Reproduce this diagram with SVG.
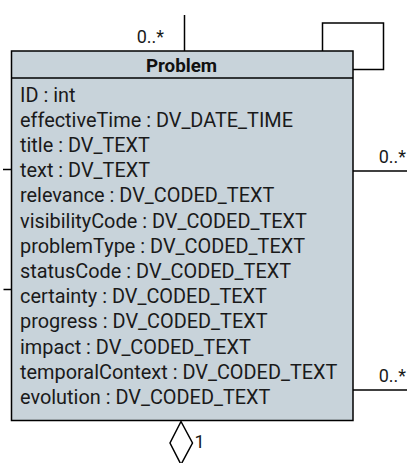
<svg xmlns="http://www.w3.org/2000/svg" width="407" height="463" viewBox="0 0 407 463">
<style>
.ln{stroke:#000;stroke-width:1.5;fill:none}
.box{fill:#c8d3da;stroke:#000;stroke-width:1.5}
.attr{font-family:Roboto,"Liberation Sans",sans-serif;font-size:19.9px;fill:#1a1a1a}
.hdr{font-family:Roboto,"Liberation Sans",sans-serif;font-size:18.8px;font-weight:bold;fill:#111}
.lbl{font-family:Roboto,"Liberation Sans",sans-serif;font-size:18px;fill:#1a1a1a}
</style>
<rect width="407" height="463" fill="#fff"/>
<g id="connectors">
<path class="ln" d="M184.5 15 V51"/>
<path class="ln" d="M322.5 51 V23 H383.5 V69.5 H353"/>
<path class="ln" d="M353 171 H407"/>
<path class="ln" d="M353 390 H407"/>
<path class="ln" d="M3 169.5 H11.5"/>
<path class="ln" d="M3.5 289.5 H11.5"/>
<path class="ln" d="M181 421.5 L170 443 L181 464.5 L192.5 443 Z"/>
<text class="lbl" x="164" y="43" text-anchor="end">0..*</text>
<text class="lbl" x="406" y="163" text-anchor="end">0..*</text>
<text class="lbl" x="406" y="382" text-anchor="end">0..*</text>
<text class="lbl" x="194.5" y="448">1</text>
</g>
<g id="Problem">
<rect class="box" x="11.5" y="51" width="341.5" height="369.5"/>
<line class="ln" x1="11.5" y1="78" x2="353" y2="78"/>
<text class="hdr" x="181.5" y="71.5" text-anchor="middle">Problem</text>
<text class="attr" x="20" y="101.5">ID : int</text>
<text class="attr" x="20" y="126.7">effectiveTime : DV_DATE_TIME</text>
<text class="attr" x="20" y="151.9">title : DV_TEXT</text>
<text class="attr" x="20" y="177.1">text : DV_TEXT</text>
<text class="attr" x="20" y="202.3">relevance : DV_CODED_TEXT</text>
<text class="attr" x="20" y="227.5">visibilityCode : DV_CODED_TEXT</text>
<text class="attr" x="20" y="252.7">problemType : DV_CODED_TEXT</text>
<text class="attr" x="20" y="277.9">statusCode : DV_CODED_TEXT</text>
<text class="attr" x="20" y="303.1">certainty : DV_CODED_TEXT</text>
<text class="attr" x="20" y="328.3">progress : DV_CODED_TEXT</text>
<text class="attr" x="20" y="353.5">impact : DV_CODED_TEXT</text>
<text class="attr" x="20" y="378.7">temporalContext : DV_CODED_TEXT</text>
<text class="attr" x="20" y="403.9">evolution : DV_CODED_TEXT</text>
</g>
</svg>
